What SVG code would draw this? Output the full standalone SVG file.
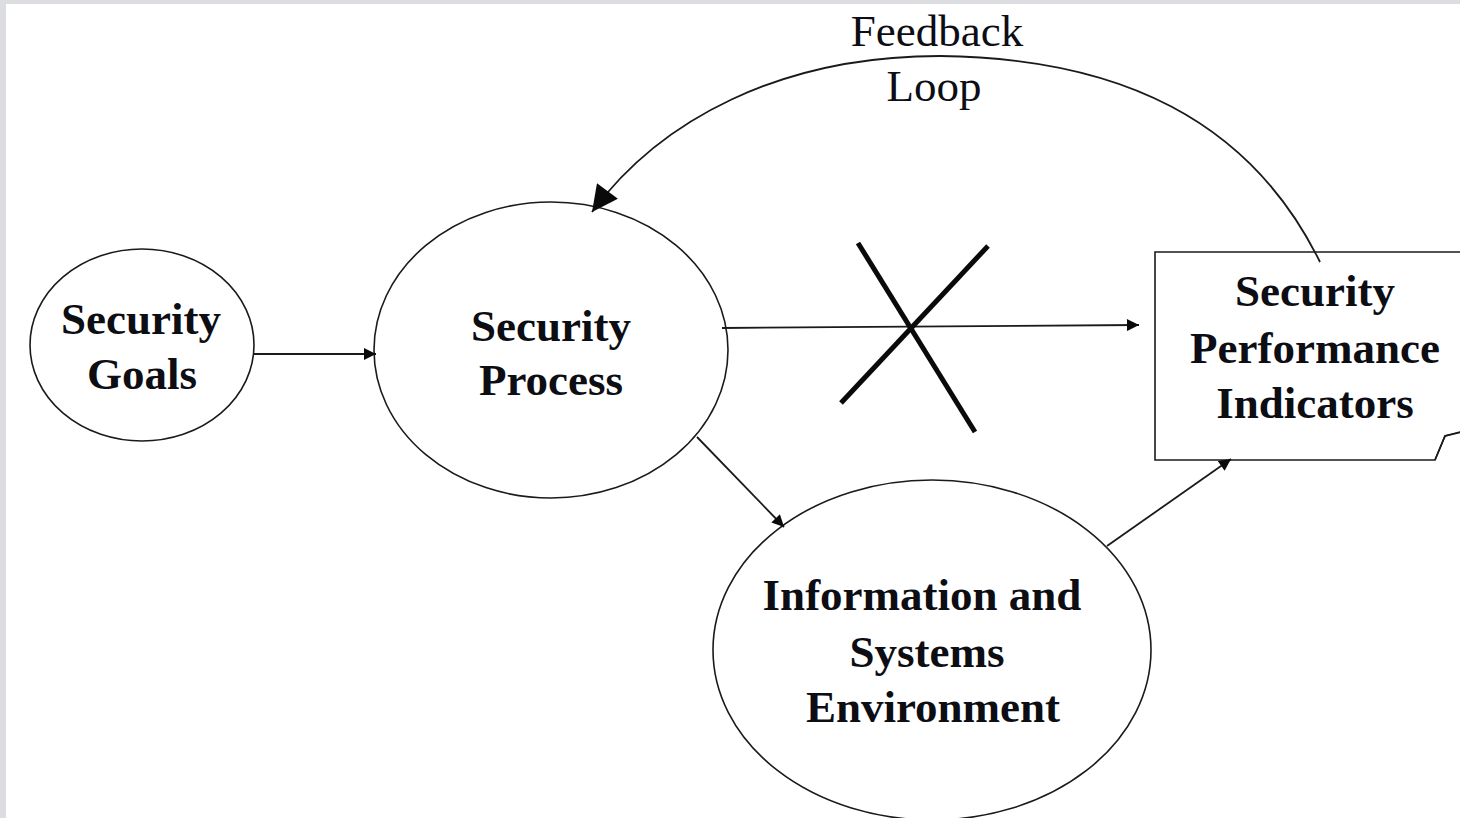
<svg xmlns="http://www.w3.org/2000/svg" width="1460" height="818" viewBox="0 0 1460 818">
  <style>
    .node { fill: #ffffff; stroke: #1a1a1a; stroke-width: 1.6; }
    .label { font-family: "Liberation Serif", "Times New Roman", serif; font-weight: bold; font-size: 45px; fill: #0d0d14; text-anchor: middle; }
    .plain { font-family: "Liberation Serif", "Times New Roman", serif; font-size: 45px; fill: #0d0d14; text-anchor: middle; }
    .edge { fill: none; stroke: #1a1a1a; stroke-width: 1.8; }
    .cross { stroke: #0a0a0a; stroke-width: 5; stroke-linecap: butt; }
  </style>
  <defs>
    <marker id="arrow" viewBox="0 0 10 10" refX="10" refY="5" markerWidth="16" markerHeight="12" markerUnits="userSpaceOnUse" orient="auto">
      <path d="M0,0 L10,5 L0,10 z" fill="#0a0a0a"/>
    </marker>
    <marker id="arrowBig" viewBox="0 0 10 10" refX="10" refY="5" markerWidth="32" markerHeight="26" markerUnits="userSpaceOnUse" orient="auto">
      <path d="M0,0 L10,5 L0,10 z" fill="#0a0a0a"/>
    </marker>
  </defs>

  <!-- page backdrop with light frame -->
  <rect x="0" y="0" width="1460" height="818" fill="#dcdde0"/>
  <rect x="6" y="4" width="1454" height="814" fill="#ffffff"/>

  <g id="node-goals">
    <ellipse class="node" cx="142" cy="345" rx="112" ry="96"/>
    <text class="label" x="141" y="334">Security</text>
    <text class="label" x="142" y="389">Goals</text>
  </g>

  <g id="node-process">
    <ellipse class="node" cx="551" cy="350" rx="177" ry="148"/>
    <text class="label" x="551" y="341">Security</text>
    <text class="label" x="551" y="395">Process</text>
  </g>

  <g id="node-environment">
    <ellipse class="node" cx="932" cy="650" rx="219" ry="170"/>
    <text class="label" x="922" y="610">Information and</text>
    <text class="label" x="927" y="667">Systems</text>
    <text class="label" x="933" y="722">Environment</text>
  </g>

  <g id="node-indicators">
    <path class="node" d="M1155,252 L1470,252 L1470,432 L1460,432 L1445,436 L1435,460 L1155,460 Z"/>
    <path d="M1435,460 L1445,436 L1462,432" fill="none" stroke="#1a1a1a" stroke-width="1.6"/>
    <text class="label" x="1315" y="306">Security</text>
    <text class="label" x="1315" y="363">Performance</text>
    <text class="label" x="1315" y="418">Indicators</text>
  </g>

  <g id="connectors">
    <line class="edge" x1="254" y1="354" x2="376" y2="354" marker-end="url(#arrow)"/>
    <line class="edge" x1="722" y1="328" x2="1139" y2="325" marker-end="url(#arrow)"/>
    <line class="edge" x1="697" y1="437" x2="784" y2="527" marker-end="url(#arrow)"/>
    <line class="edge" x1="1107" y1="546" x2="1231" y2="459" marker-end="url(#arrow)"/>
    <path class="edge" d="M1320,262 C1250,120 1120,58 940,56 C780,56 660,120 592,212" marker-end="url(#arrowBig)"/>
    <text class="plain" x="937" y="46">Feedback</text>
    <text class="plain" x="934" y="101">Loop</text>
    <line class="cross" x1="858" y1="243" x2="975" y2="432"/>
    <line class="cross" x1="988" y1="246" x2="841" y2="403"/>
  </g>
</svg>
